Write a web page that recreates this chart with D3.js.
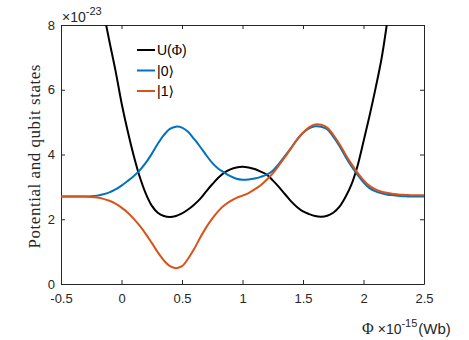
<!DOCTYPE html>
<html>
<head>
<meta charset="utf-8">
<script src="https://cdn.jsdelivr.net/npm/d3@7"></script>
<style>
  body { margin: 0; background: #fff; }
  svg { display: block; }
  .axis text { font-family: "Liberation Sans", Arial, sans-serif; font-size: 13px; fill: #262626; }
  .axis path, .axis line { stroke: #262626; }
</style>
</head>
<body>
<div id="chart"></div>
<script>
// flux grid (x 1e-15 Wb)
const phi = [-0.5, -0.45, -0.4, -0.35, -0.3, -0.25, -0.2, -0.15, -0.1, -0.05,
  0, 0.05, 0.1, 0.15, 0.2, 0.25, 0.3, 0.35, 0.4, 0.45,
  0.5, 0.55, 0.6, 0.65, 0.7, 0.75, 0.8, 0.85, 0.9, 0.95,
  1, 1.05, 1.1, 1.15, 1.2, 1.25, 1.3, 1.35, 1.4, 1.45,
  1.5, 1.55, 1.6, 1.65, 1.7, 1.75, 1.8, 1.85, 1.9, 1.95,
  2, 2.05, 2.1, 2.15, 2.2, 2.25, 2.3, 2.35, 2.4, 2.45, 2.5];

// |0> (x 1e-23)
const state0 = [2.70, 2.70, 2.70, 2.70, 2.70, 2.71, 2.73, 2.77, 2.83, 2.92,
  3.04, 3.18, 3.33, 3.51, 3.74, 4.02, 4.33, 4.60, 4.79, 4.86,
  4.83, 4.70, 4.48, 4.24, 3.98, 3.74, 3.56, 3.44, 3.33, 3.25,
  3.22, 3.23, 3.26, 3.31, 3.38, 3.50, 3.71, 3.95, 4.20, 4.46,
  4.67, 4.81, 4.87, 4.86, 4.78, 4.55, 4.27, 3.94, 3.64, 3.38,
  3.14, 2.96, 2.86, 2.80, 2.76, 2.74, 2.72, 2.71, 2.70, 2.70, 2.70];

// |1>
const state1 = [2.70, 2.70, 2.70, 2.70, 2.70, 2.69, 2.67, 2.63, 2.57, 2.48,
  2.36, 2.21, 2.02, 1.80, 1.55, 1.27, 0.98, 0.73, 0.55, 0.49,
  0.55, 0.78, 1.08, 1.43, 1.75, 2.02, 2.25, 2.43, 2.56, 2.66,
  2.73, 2.81, 2.92, 3.05, 3.22, 3.42, 3.66, 3.92, 4.18, 4.45,
  4.67, 4.84, 4.93, 4.92, 4.83, 4.61, 4.33, 4.01, 3.71, 3.44,
  3.21, 3.03, 2.92, 2.85, 2.81, 2.78, 2.76, 2.75, 2.74, 2.74, 2.74];

// U(Phi)
const phiU = [-0.2, -0.15, -0.1, -0.05, 0, 0.05, 0.1, 0.15, 0.2, 0.25,
  0.3, 0.35, 0.4, 0.45, 0.5, 0.55, 0.6, 0.65, 0.7, 0.75,
  0.8, 0.85, 0.9, 0.95, 1, 1.05, 1.1, 1.15, 1.2, 1.25,
  1.3, 1.35, 1.4, 1.45, 1.5, 1.55, 1.6, 1.65, 1.7, 1.75,
  1.8, 1.85, 1.9, 1.95, 2, 2.05, 2.1, 2.15, 2.2, 2.25];
const potential = [9.60, 8.45, 7.50, 6.60, 5.60, 4.74, 3.98, 3.32, 2.80, 2.42,
  2.20, 2.10, 2.07, 2.10, 2.18, 2.30, 2.45, 2.63, 2.86, 3.08,
  3.28, 3.44, 3.54, 3.60, 3.62, 3.60, 3.55, 3.47, 3.38, 3.20,
  3.00, 2.78, 2.56, 2.38, 2.24, 2.16, 2.10, 2.08, 2.11, 2.20,
  2.38, 2.68, 3.07, 3.64, 4.40, 5.20, 6.05, 6.98, 8.20, 9.50];

const xTicks = [-0.5, 0, 0.5, 1, 1.5, 2, 2.5];
const yTicks = [0, 2, 4, 6, 8];

const width = 469;
const height = 340;
const plotLeft = 61, plotRight = 424, plotTop = 25, plotBottom = 284;

const svg = d3.select("#chart")
    .append("svg")
    .attr("width", width)
    .attr("height", height);

const x = d3.scaleLinear().domain([-0.5, 2.5]).range([plotLeft, plotRight]);
const y = d3.scaleLinear().domain([0, 8]).range([plotBottom, plotTop]);

svg.append("defs").append("clipPath")
    .attr("id", "plot-clip")
    .append("rect")
    .attr("x", plotLeft).attr("y", plotTop)
    .attr("width", plotRight - plotLeft).attr("height", plotBottom - plotTop);

const fmt = d => String(d);

// axes, ticks inside, box on
svg.append("g").attr("class", "axis")
    .attr("transform", `translate(0,${plotBottom})`)
    .call(d3.axisBottom(x).tickValues(xTicks).tickFormat(fmt).tickSize(-4).tickSizeOuter(0).tickPadding(10));
svg.append("g").attr("class", "axis")
    .attr("transform", `translate(0,${plotTop})`)
    .call(d3.axisTop(x).tickValues(xTicks).tickFormat("").tickSize(-4).tickSizeOuter(0));
svg.append("g").attr("class", "axis")
    .attr("transform", `translate(${plotLeft},0)`)
    .call(d3.axisLeft(y).tickValues(yTicks).tickFormat(fmt).tickSize(-4).tickSizeOuter(0).tickPadding(6));
svg.append("g").attr("class", "axis")
    .attr("transform", `translate(${plotRight},0)`)
    .call(d3.axisRight(y).tickValues(yTicks).tickFormat("").tickSize(-4).tickSizeOuter(0));

const line = d3.line().curve(d3.curveCatmullRom.alpha(0.5));
const plot = svg.append("g").attr("clip-path", "url(#plot-clip)");

const series = [
    { name: "U", xs: phiU, ys: potential, color: "#000000" },
    { name: "s0", xs: phi, ys: state0, color: "#0072BD" },
    { name: "s1", xs: phi, ys: state1, color: "#D95319" }
];

plot.selectAll("path")
    .data(series)
    .enter().append("path")
    .attr("d", s => line(s.xs.map((v, i) => [x(v), y(s.ys[i])])))
    .attr("fill", "none")
    .attr("stroke", s => s.color)
    .attr("stroke-width", 2);

// legend
const legendItems = [
    { parts: [["U(", "sans"], ["\u03A6", "serif"], [")", "sans"]], color: "#000000" },
    { parts: [["|0\u27E9", "sans"]], color: "#0072BD" },
    { parts: [["|1\u27E9", "sans"]], color: "#D95319" }
];
const legend = svg.append("g");
legendItems.forEach((item, i) => {
    const ly = 50 + i * 20.5;
    legend.append("line")
        .attr("x1", 137).attr("x2", 155)
        .attr("y1", ly).attr("y2", ly)
        .attr("stroke", item.color).attr("stroke-width", 2);
    const t = legend.append("text")
        .attr("x", 157).attr("y", ly + 5)
        .attr("font-size", 14).attr("fill", "#000");
    item.parts.forEach(p => {
        t.append("tspan")
            .attr("font-family", p[1] === "serif" ? "'Liberation Serif', serif" : "'Liberation Sans', 'DejaVu Sans', sans-serif")
            .text(p[0]);
    });
});

// y exponent
const yExp = svg.append("text")
    .attr("x", 62).attr("y", 22)
    .attr("font-family", "'Liberation Sans', Arial, sans-serif")
    .attr("font-size", 14).attr("fill", "#262626");
yExp.append("tspan").text("\u00D710");
yExp.append("tspan").attr("font-size", 11).attr("dy", -7).text("-23");

// y label
svg.append("text")
    .attr("transform", `translate(40,${(plotTop + plotBottom) / 2 + 2}) rotate(-90)`)
    .attr("text-anchor", "middle")
    .attr("font-family", "'Liberation Serif', 'DejaVu Serif', serif")
    .attr("font-size", 17)
    .attr("textLength", 184)
    .attr("lengthAdjust", "spacing")
    .attr("fill", "#262626")
    .text("Potential and qubit states");

// x label with exponent
const xl = svg.append("text")
    .attr("x", 362).attr("y", 334)
    .attr("fill", "#262626")
    .attr("font-size", 14);
xl.append("tspan").attr("font-family", "'Liberation Serif', serif").attr("font-size", 16).text("\u03A6");
xl.append("tspan").attr("font-family", "'Liberation Sans', Arial, sans-serif").attr("dx", 4).text("\u00D710");
xl.append("tspan").attr("font-family", "'Liberation Sans', Arial, sans-serif").attr("font-size", 11).attr("dy", -7).text("-15");
xl.append("tspan").attr("font-family", "'Liberation Sans', Arial, sans-serif").attr("font-size", 15).attr("dy", 7).attr("dx", 1).text("(Wb)");
</script>
</body>
</html>
